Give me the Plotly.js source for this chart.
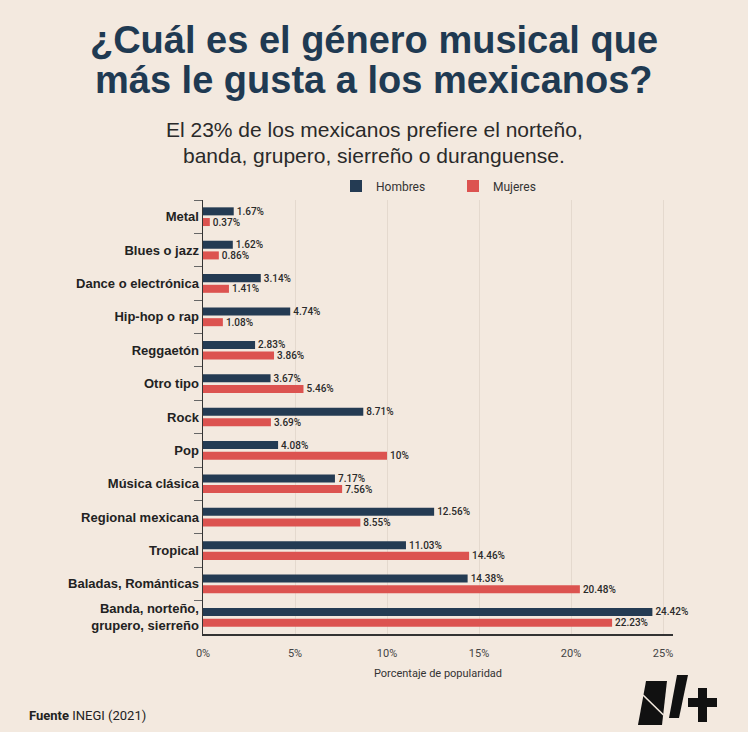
<!DOCTYPE html>
<html>
<head>
<meta charset="utf-8">
<script src="https://cdn.plot.ly/plotly-3.0.1.min.js"></script>
<style>
  html, body { margin: 0; padding: 0; background: #f3e9df; }
  #chart { width: 748px; height: 732px; }
</style>
</head>
<body>
<div id="chart"></div>
<script>
// ---- Data ----
const categories = [
  "Metal",
  "Blues o jazz",
  "Dance o electrónica",
  "Hip-hop o rap",
  "Reggaetón",
  "Otro tipo",
  "Rock",
  "Pop",
  "Música clásica",
  "Regional mexicana",
  "Tropical",
  "Baladas, Románticas",
  "Banda, norteño,<br>grupero, sierreño"
];
const hombres = [1.67, 1.62, 3.14, 4.74, 2.83, 3.67, 8.71, 4.08, 7.17, 12.56, 11.03, 14.38, 24.42];
const mujeres = [0.37, 0.86, 1.41, 1.08, 3.86, 5.46, 3.69, 10, 7.56, 8.55, 14.46, 20.48, 22.23];
const xTickVals = [0, 5, 10, 15, 20, 25];
const xTickText = ["0%", "5%", "10%", "15%", "20%", "25%"];

// ---- Layout geometry (pixels) ----
const W = 748, H = 732;
const M = { l: 203, r: 75, t: 200, b: 98 };
const PW = W - M.l - M.r, PH = H - M.t - M.b;
const px = x => (x - M.l) / PW;
const py = y => (H - M.b - y) / PH;

const BG = "#f3e9df";
const NAVY = "#243b53";
const RED = "#dc5350";
const TXT = "#2a2a2a";

const fmt = v => String(v) + "%";

const labelFont = { family: "Roboto, sans-serif", size: 10, color: TXT, weight: 500 };

const traces = [
  {
    type: "bar", orientation: "h", name: "Hombres",
    y: categories, x: hombres,
    marker: { color: NAVY },
    text: hombres.map(fmt), textposition: "outside", cliponaxis: false,
    constraintext: "none", textfont: labelFont,
    hoverinfo: "skip"
  },
  {
    type: "bar", orientation: "h", name: "Mujeres",
    y: categories, x: mujeres,
    marker: { color: RED },
    text: mujeres.map(fmt), textposition: "outside", cliponaxis: false,
    constraintext: "none", textfont: labelFont,
    hoverinfo: "skip"
  }
];

// Logo (decorative) as shapes
function path(pts) {
  return "M" + pts.map(p => px(p[0]).toFixed(4) + "," + py(p[1]).toFixed(4)).join(" L") + " Z";
}
const logoShapes = [
  { type: "path", xref: "paper", yref: "paper", fillcolor: "#111", line: { width: 0 },
    path: path([[646, 681], [667, 681], [662, 725], [638, 725]]) },
  { type: "line", xref: "paper", yref: "paper", line: { color: BG, width: 1.6 },
    x0: px(643), y0: py(695), x1: px(663.5), y1: py(715) },
  { type: "path", xref: "paper", yref: "paper", fillcolor: "#111", line: { width: 0 },
    path: path([[677, 675], [688, 675], [679, 718], [669, 718]]) },
  { type: "rect", xref: "paper", yref: "paper", fillcolor: "#111", line: { width: 0 },
    x0: px(688), x1: px(717), y0: py(698), y1: py(707) },
  { type: "rect", xref: "paper", yref: "paper", fillcolor: "#111", line: { width: 0 },
    x0: px(698), x1: px(707), y0: py(688), y1: py(722) }
];

const TITLE_FONT = { family: "Liberation Sans, Arial, sans-serif", size: 38, color: "#1f3a52" };
const CX = 0.5 * (px(0) + px(W));

const layout = {
  width: W, height: H,
  margin: M,
  paper_bgcolor: BG, plot_bgcolor: BG,
  font: { family: "Liberation Sans, Arial, sans-serif", color: TXT },
  title: {
    text: "<b>¿Cuál es el género musical que</b>",
    font: TITLE_FONT,
    x: 0.5, xref: "container", xanchor: "center",
    y: 1 - 40 / H, yref: "container", yanchor: "middle"
  },
  barmode: "group",
  bargap: 0.36,
  bargroupgap: 0.25,
  showlegend: true,
  legend: {
    orientation: "h",
    x: px(336), xanchor: "left",
    y: py(186), yanchor: "middle",
    font: { family: "Roboto, sans-serif", size: 12, color: "#333" },
    entrywidth: 72, entrywidthmode: "pixels",
    bgcolor: "rgba(0,0,0,0)", itemclick: false, itemdoubleclick: false
  },
  xaxis: {
    range: [0, 25.54],
    tickvals: xTickVals, ticktext: xTickText,
    tickfont: { family: "Roboto, sans-serif", size: 11, color: "#444" },
    ticklabelstandoff: 8,
    showgrid: true, gridcolor: "#e4d9ce", gridwidth: 1,
    zeroline: false,
    showline: true, linecolor: "#333", linewidth: 1.5,
    ticks: "",
    title: {
      text: "Porcentaje de popularidad",
      font: { family: "Roboto, sans-serif", size: 11, color: "#333" },
      standoff: 10
    },
    fixedrange: true
  },
  yaxis: {
    type: "category",
    autorange: "reversed",
    tickfont: { family: "Liberation Sans, Arial, sans-serif", size: 13, color: "#222", weight: "bold" },
    showline: true, linecolor: "#333", linewidth: 1.5,
    ticks: "outside", ticklen: 8, tickcolor: "#666", tickwidth: 1,
    tickson: "boundaries",
    showgrid: false, zeroline: false,
    fixedrange: true
  },
  annotations: [
    {
      text: "<b>más le gusta a los mexicanos?</b>",
      xref: "paper", yref: "paper", x: CX, y: py(80),
      xanchor: "center", yanchor: "middle", showarrow: false,
      font: TITLE_FONT
    },
    {
      text: "El 23% de los mexicanos prefiere el norteño,",
      xref: "paper", yref: "paper", x: CX, y: py(129),
      xanchor: "center", yanchor: "middle", showarrow: false,
      font: { family: "Liberation Sans, Arial, sans-serif", size: 21, color: "#2a2a2a" }
    },
    {
      text: "banda, grupero, sierreño o duranguense.",
      xref: "paper", yref: "paper", x: CX, y: py(155),
      xanchor: "center", yanchor: "middle", showarrow: false,
      font: { family: "Liberation Sans, Arial, sans-serif", size: 21, color: "#2a2a2a" }
    },
    {
      text: "<b>Fuente</b> INEGI (2021)",
      xref: "paper", yref: "paper", x: px(27), y: py(715),
      xanchor: "left", yanchor: "middle", showarrow: false,
      font: { family: "Roboto, sans-serif", size: 13, color: "#222" }
    }
  ],
  shapes: logoShapes
};

Plotly.newPlot("chart", traces, layout, { displayModeBar: false, staticPlot: true });
</script>
</body>
</html>
